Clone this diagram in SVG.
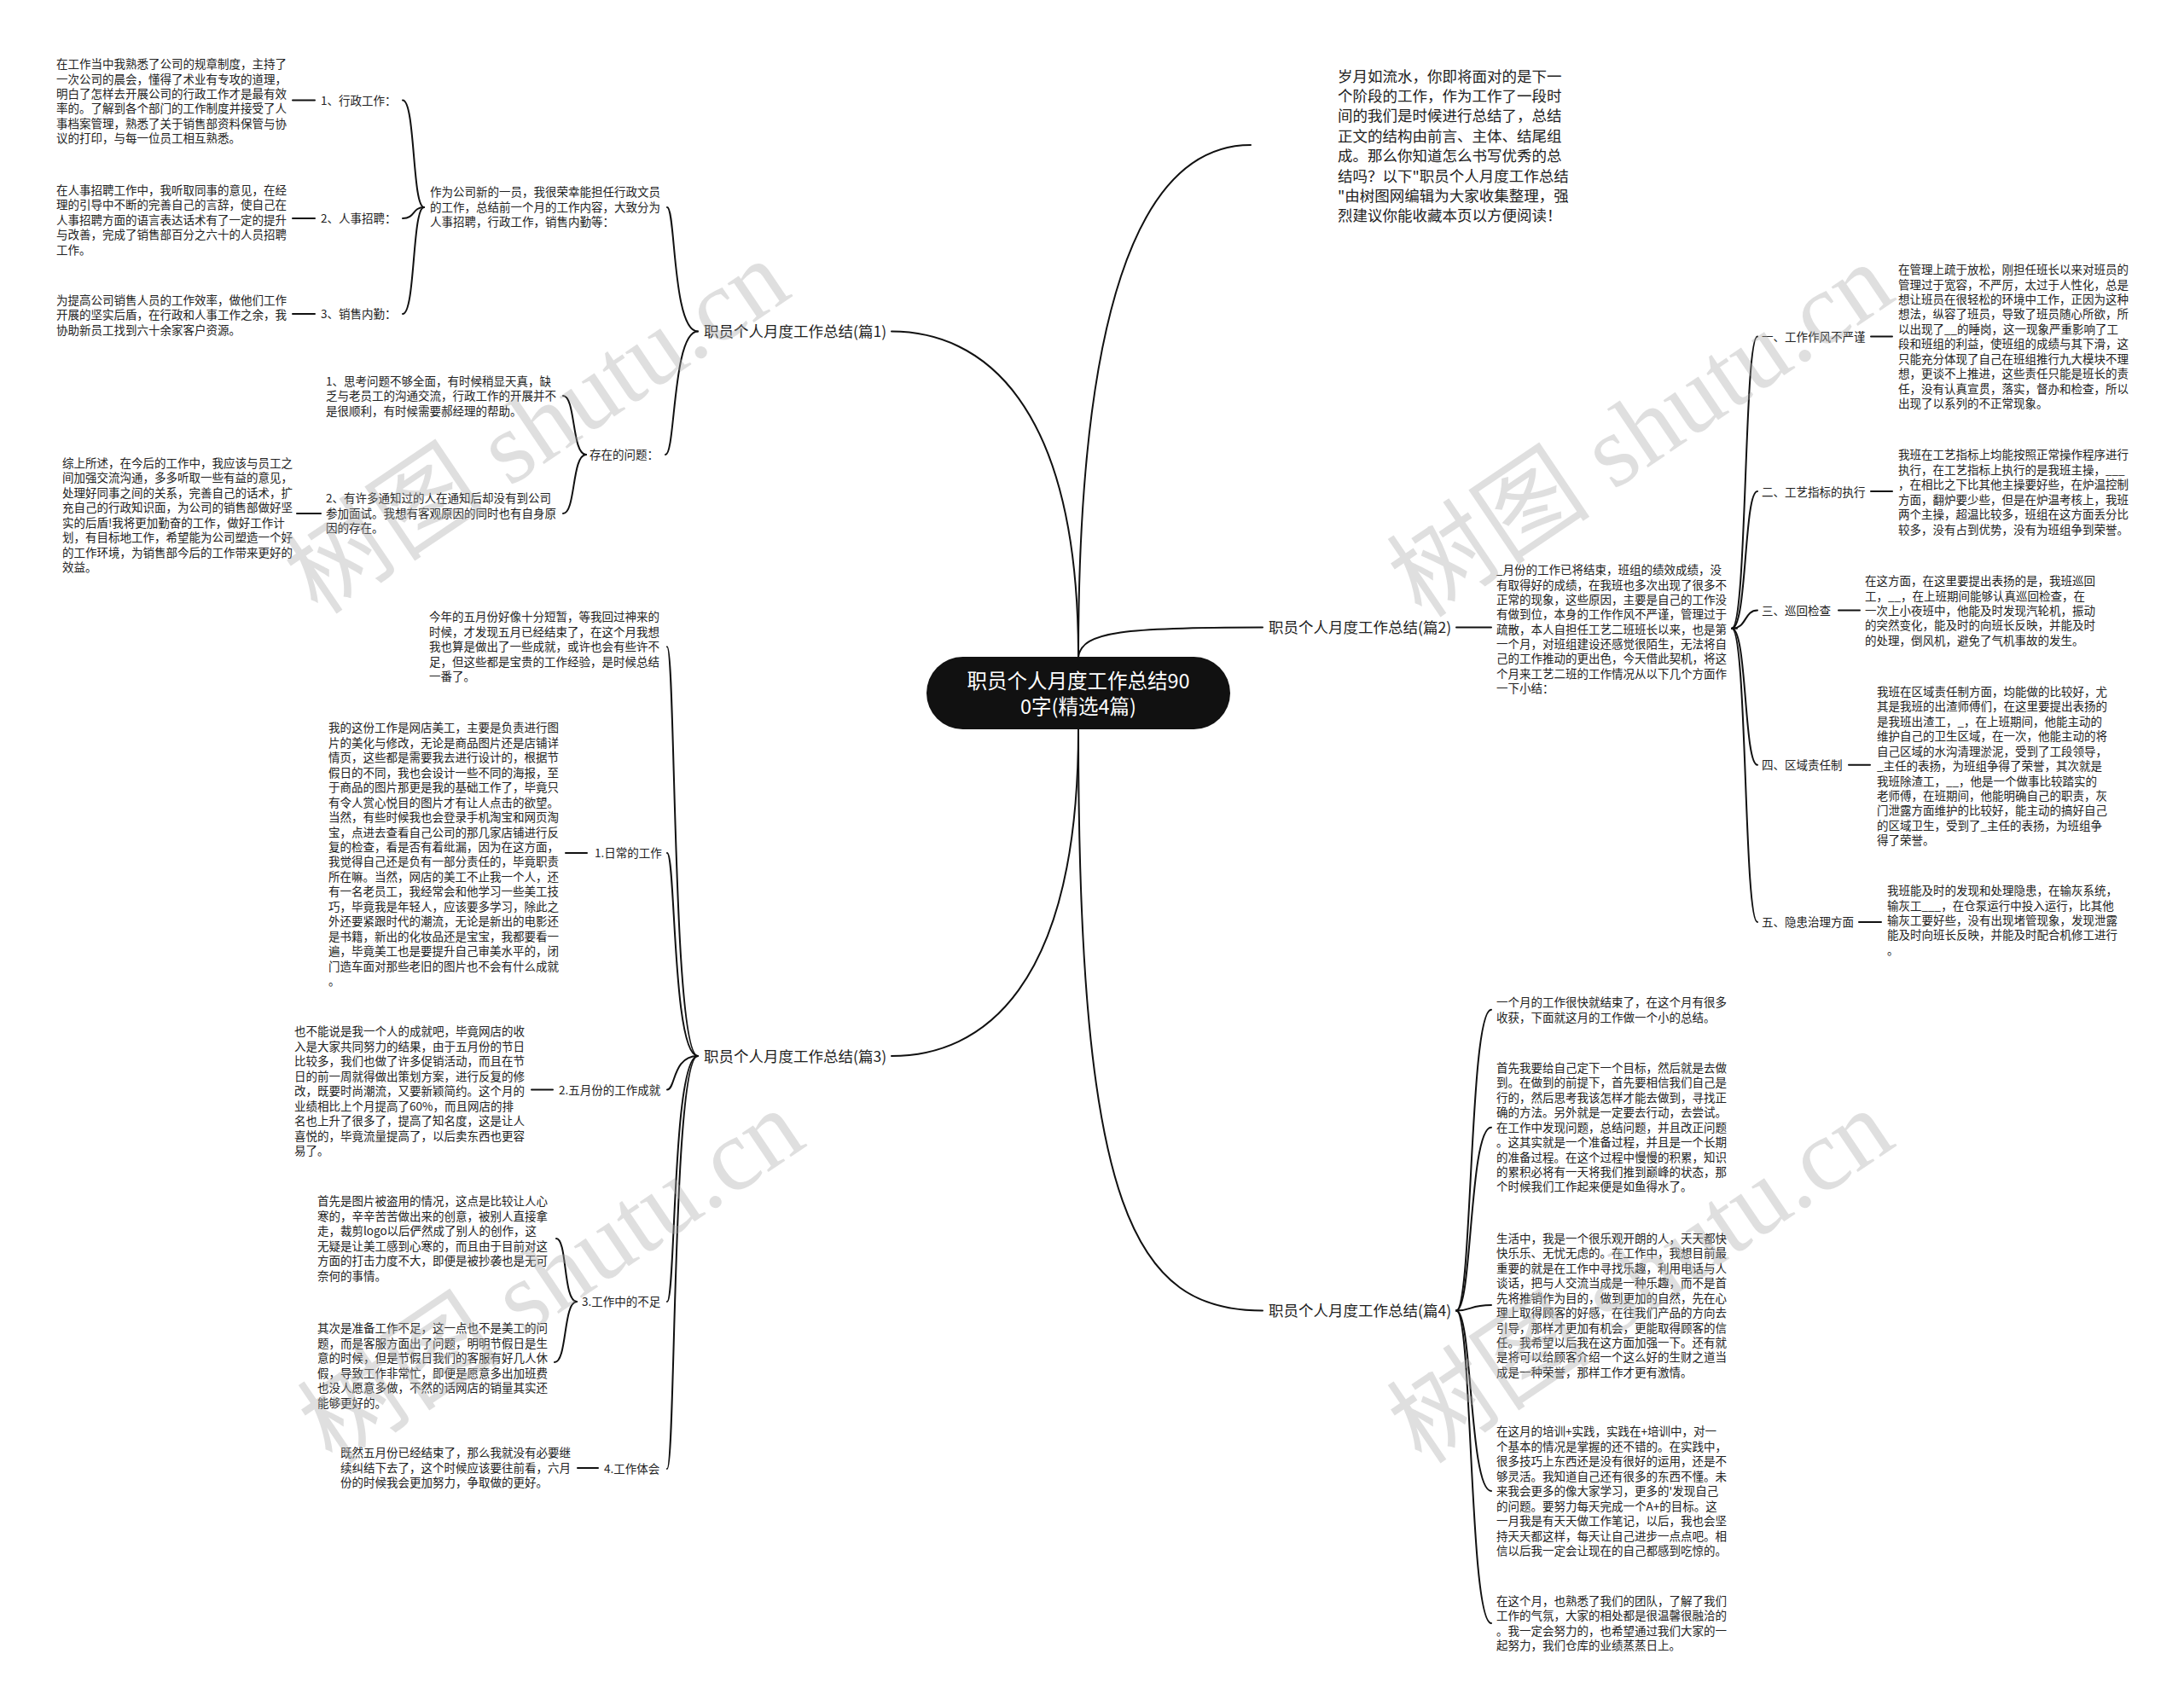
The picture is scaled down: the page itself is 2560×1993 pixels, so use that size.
<svg xmlns="http://www.w3.org/2000/svg" width="2560" height="1993" viewBox="0 0 2560 1993">
<style>
.s{font-family:"Noto Sans CJK SC","Noto Sans",sans-serif;font-size:13.5px;fill:#222}
.b{font-family:"Noto Sans CJK SC","Noto Sans",sans-serif;font-size:17.5px;fill:#222}
.c{font-family:"Noto Sans CJK SC","Noto Sans",sans-serif;font-size:23.5px;fill:#fff}
.ln{fill:none;stroke:#111;stroke-width:2;stroke-linecap:round}
.wm{font-family:"Liberation Serif","Noto Sans CJK SC",serif;font-size:120px;fill:#aaa;fill-opacity:0.38}
</style>
<rect width="2560" height="1993" fill="#fff"/>
<g id="connectors" class="ln">
<path d="M1264 770 C1264 380 1330 170 1466 170"/>
<path d="M1264 770 C1264 470 1150 388.6 1045 388.6"/>
<path d="M1264 770 C1268 740 1320 735.5 1480 735.5"/>
<path d="M1264 855 C1264 1160 1150 1238 1045 1238"/>
<path d="M1264 855 C1264 1420 1330 1536.5 1480 1536.5"/>
<path d="M818 388.6 C788 388.6 792 243 782 243"/>
<path d="M818 388.6 C788 388.6 792 533 780 533"/>
<path d="M497 243 C483 243 487 117.5 472 117.5"/>
<path d="M497 243 C483 243 487 256 472 256"/>
<path d="M497 243 C483 243 487 368 472 368"/>
<path d="M343 117.5 H369"/>
<path d="M343 256 H369"/>
<path d="M343 368 H369"/>
<path d="M687 533 C670 533 675 464 660 464"/>
<path d="M687 533 C670 533 675 602 660 602"/>
<path d="M348 602 H376"/>
<path d="M1707 735.5 H1748"/>
<path d="M2030 736.7 H2036"/>
<path d="M2030 736.7 C2048 736.7 2044 394.5 2060 394.5"/>
<path d="M2030 736.7 C2048 736.7 2044 576 2060 576"/>
<path d="M2030 736.7 C2048 736.7 2044 715.5 2060 715.5"/>
<path d="M2030 736.7 C2048 736.7 2044 896.7 2060 896.7"/>
<path d="M2030 736.7 C2048 736.7 2044 1081 2060 1081"/>
<path d="M2193 394.5 H2218"/>
<path d="M2193 576 H2218"/>
<path d="M2155 715.5 H2180"/>
<path d="M2167 896.7 H2192"/>
<path d="M2179 1081 H2205"/>
<path d="M818 1238 C788 1238 792 758.3 782 758.3"/>
<path d="M818 1238 C788 1238 792 1000 782 1000"/>
<path d="M818 1238 C788 1238 792 1277.5 782 1277.5"/>
<path d="M818 1238 C788 1238 792 1526 782 1526"/>
<path d="M818 1238 C788 1238 792 1722 782 1722"/>
<path d="M663 1000 H688"/>
<path d="M623 1277.5 H648"/>
<path d="M676 1526 C660 1526 665 1452 652 1452"/>
<path d="M676 1526 C660 1526 665 1597 650 1597"/>
<path d="M677 1721 H701"/>
<path d="M1707 1536.5 C1726 1536.5 1722 1183.7 1748 1183.7"/>
<path d="M1707 1536.5 C1726 1536.5 1722 1321.7 1748 1321.7"/>
<path d="M1707 1536.5 C1726 1536.5 1722 1530 1748 1530"/>
<path d="M1707 1536.5 C1726 1536.5 1722 1748 1748 1748"/>
<path d="M1707 1536.5 C1726 1536.5 1722 1903 1748 1903"/>
</g>
<g id="center">
<rect x="1086" y="770" width="356" height="85" rx="42.5" fill="#111"/>
<text class="c" text-anchor="middle"><tspan x="1264" y="807.2">职员个人月度工作总结90</tspan><tspan x="1264" y="837.2">0字(精选4篇)</tspan></text>
</g>
<g id="intro">
<text class="b"><tspan x="1568" y="95.6">岁月如流水，你即将面对的是下一</tspan><tspan x="1568" dy="23.4">个阶段的工作，作为工作了一段时</tspan><tspan x="1568" dy="23.4">间的我们是时候进行总结了，总结</tspan><tspan x="1568" dy="23.4">正文的结构由前言、主体、结尾组</tspan><tspan x="1568" dy="23.4">成。那么你知道怎么书写优秀的总</tspan><tspan x="1568" dy="23.4">结吗？以下"职员个人月度工作总结</tspan><tspan x="1568" dy="23.4">"由树图网编辑为大家收集整理，强</tspan><tspan x="1568" dy="23.4">烈建议你能收藏本页以方便阅读！</tspan></text>
</g>
<g id="p1"><text class="b" x="825" y="395.2">职员个人月度工作总结(篇1)</text></g>
<g id="p1-intro"><text class="s"><tspan x="504" y="230.1">作为公司新的一员，我很荣幸能担任行政文员</tspan><tspan x="504" dy="17.45">的工作，总结前一个月的工作内容，大致分为</tspan><tspan x="504" dy="17.45">人事招聘，行政工作，销售内勤等：</tspan></text></g>
<g id="p1-l1"><text class="s" x="376" y="122.6">1、行政工作：</text></g>
<g id="p1-l2"><text class="s" x="376" y="261.1">2、人事招聘：</text></g>
<g id="p1-l3"><text class="s" x="376" y="373.1">3、销售内勤：</text></g>
<g id="p1-a1"><text class="s"><tspan x="66" y="80.1">在工作当中我熟悉了公司的规章制度，主持了</tspan><tspan x="66" dy="17.45">一次公司的晨会，懂得了术业有专攻的道理，</tspan><tspan x="66" dy="17.45">明白了怎样去开展公司的行政工作才是最有效</tspan><tspan x="66" dy="17.45">率的。了解到各个部门的工作制度并接受了人</tspan><tspan x="66" dy="17.45">事档案管理，熟悉了关于销售部资料保管与协</tspan><tspan x="66" dy="17.45">议的打印，与每一位员工相互熟悉。</tspan></text></g>
<g id="p1-a2"><text class="s"><tspan x="66" y="227.8">在人事招聘工作中，我听取同事的意见，在经</tspan><tspan x="66" dy="17.45">理的引导中不断的完善自己的言辞，使自己在</tspan><tspan x="66" dy="17.45">人事招聘方面的语言表达话术有了一定的提升</tspan><tspan x="66" dy="17.45">与改善，完成了销售部百分之六十的人员招聘</tspan><tspan x="66" dy="17.45">工作。</tspan></text></g>
<g id="p1-a3"><text class="s"><tspan x="66" y="356.8">为提高公司销售人员的工作效率，做他们工作</tspan><tspan x="66" dy="17.45">开展的坚实后盾，在行政和人事工作之余，我</tspan><tspan x="66" dy="17.45">协助新员工找到六十余家客户资源。</tspan></text></g>
<g id="p1-q"><text class="s" x="691" y="538.1">存在的问题：</text></g>
<g id="p1-q1"><text class="s"><tspan x="382" y="451.8">1、思考问题不够全面，有时候稍显天真，缺</tspan><tspan x="382" dy="17.45">乏与老员工的沟通交流，行政工作的开展并不</tspan><tspan x="382" dy="17.45">是很顺利，有时候需要郝经理的帮助。</tspan></text></g>
<g id="p1-q2"><text class="s"><tspan x="382" y="589.4">2、有许多通知过的人在通知后却没有到公司</tspan><tspan x="382" dy="17.45">参加面试。我想有客观原因的同时也有自身原</tspan><tspan x="382" dy="17.45">因的存在。</tspan></text></g>
<g id="p1-q2a"><text class="s"><tspan x="73" y="547.8">综上所述，在今后的工作中，我应该与员工之</tspan><tspan x="73" dy="17.45">间加强交流沟通，多多听取一些有益的意见，</tspan><tspan x="73" dy="17.45">处理好同事之间的关系，完善自己的话术，扩</tspan><tspan x="73" dy="17.45">充自己的行政知识面，为公司的销售部做好坚</tspan><tspan x="73" dy="17.45">实的后盾!我将更加勤奋的工作，做好工作计</tspan><tspan x="73" dy="17.45">划，有目标地工作，希望能为公司塑造一个好</tspan><tspan x="73" dy="17.45">的工作环境，为销售部今后的工作带来更好的</tspan><tspan x="73" dy="17.45">效益。</tspan></text></g>
<g id="p2"><text class="b" x="1487" y="741.6">职员个人月度工作总结(篇2)</text></g>
<g id="p2-intro"><text class="s"><tspan x="1754" y="673.4">_月份的工作已将结束，班组的绩效成绩，没</tspan><tspan x="1754" dy="17.3">有取得好的成绩，在我班也多次出现了很多不</tspan><tspan x="1754" dy="17.3">正常的现象，这些原因，主要是自己的工作没</tspan><tspan x="1754" dy="17.3">有做到位，本身的工作作风不严谨，管理过于</tspan><tspan x="1754" dy="17.3">疏散，本人自担任工艺二班班长以来，也是第</tspan><tspan x="1754" dy="17.3">一个月，对班组建设还感觉很陌生，无法将自</tspan><tspan x="1754" dy="17.3">己的工作推动的更出色，今天借此契机，将这</tspan><tspan x="1754" dy="17.3">个月来工艺二班的工作情况从以下几个方面作</tspan><tspan x="1754" dy="17.3">一下小结：</tspan></text></g>
<g id="p2-l1"><text class="s" x="2065" y="400.1">一、工作作风不严谨</text></g>
<g id="p2-a1"><text class="s"><tspan x="2225" y="321.1">在管理上疏于放松，刚担任班长以来对班员的</tspan><tspan x="2225" dy="17.45">管理过于宽容，不严厉，太过于人性化，总是</tspan><tspan x="2225" dy="17.45">想让班员在很轻松的环境中工作，正因为这种</tspan><tspan x="2225" dy="17.45">想法，纵容了班员，导致了班员随心所欲，所</tspan><tspan x="2225" dy="17.45">以出现了__的睡岗，这一现象严重影响了工</tspan><tspan x="2225" dy="17.45">段和班组的利益，使班组的成绩与其下滑，这</tspan><tspan x="2225" dy="17.45">只能充分体现了自己在班组推行九大模块不理</tspan><tspan x="2225" dy="17.45">想，更谈不上推进，这些责任只能是班长的责</tspan><tspan x="2225" dy="17.45">任，没有认真宣贯，落实，督办和检查，所以</tspan><tspan x="2225" dy="17.45">出现了以系列的不正常现象。</tspan></text></g>
<g id="p2-l2"><text class="s" x="2065" y="581.6">二、工艺指标的执行</text></g>
<g id="p2-a2"><text class="s"><tspan x="2225" y="538.4">我班在工艺指标上均能按照正常操作程序进行</tspan><tspan x="2225" dy="17.45">执行，在工艺指标上执行的是我班主操，___</tspan><tspan x="2225" dy="17.45">，在相比之下比其他主操要好些，在炉温控制</tspan><tspan x="2225" dy="17.45">方面，翻炉要少些，但是在炉温考核上，我班</tspan><tspan x="2225" dy="17.45">两个主操，超温比较多，班组在这方面丢分比</tspan><tspan x="2225" dy="17.45">较多，没有占到优势，没有为班组争到荣誉。</tspan></text></g>
<g id="p2-l3"><text class="s" x="2065" y="721.1">三、巡回检查</text></g>
<g id="p2-a3"><text class="s"><tspan x="2186" y="686.1">在这方面，在这里要提出表扬的是，我班巡回</tspan><tspan x="2186" dy="17.45">工，__，在上班期间能够认真巡回检查，在</tspan><tspan x="2186" dy="17.45">一次上小夜班中，他能及时发现汽轮机，振动</tspan><tspan x="2186" dy="17.45">的突然变化，能及时的向班长反映，并能及时</tspan><tspan x="2186" dy="17.45">的处理，倒风机，避免了气机事故的发生。</tspan></text></g>
<g id="p2-l4"><text class="s" x="2065" y="901.8">四、区域责任制</text></g>
<g id="p2-a4"><text class="s"><tspan x="2200" y="815.8">我班在区域责任制方面，均能做的比较好，尤</tspan><tspan x="2200" dy="17.45">其是我班的出渣师傅们，在这里要提出表扬的</tspan><tspan x="2200" dy="17.45">是我班出渣工，_，在上班期间，他能主动的</tspan><tspan x="2200" dy="17.45">维护自己的卫生区域，在一次，他能主动的将</tspan><tspan x="2200" dy="17.45">自己区域的水沟清理淤泥，受到了工段领导，</tspan><tspan x="2200" dy="17.45">_主任的表扬，为班组争得了荣誉，其次就是</tspan><tspan x="2200" dy="17.45">我班除渣工，__，他是一个做事比较踏实的</tspan><tspan x="2200" dy="17.45">老师傅，在班期间，他能明确自己的职责，灰</tspan><tspan x="2200" dy="17.45">门泄露方面维护的比较好，能主动的搞好自己</tspan><tspan x="2200" dy="17.45">的区域卫生，受到了_主任的表扬，为班组争</tspan><tspan x="2200" dy="17.45">得了荣誉。</tspan></text></g>
<g id="p2-l5"><text class="s" x="2065" y="1086.1">五、隐患治理方面</text></g>
<g id="p2-a5"><text class="s"><tspan x="2212" y="1049.1">我班能及时的发现和处理隐患，在输灰系统，</tspan><tspan x="2212" dy="17.45">输灰工___，在仓泵运行中投入运行，比其他</tspan><tspan x="2212" dy="17.45">输灰工要好些，没有出现堵管现象，发现泄露</tspan><tspan x="2212" dy="17.45">能及时向班长反映，并能及时配合机修工进行</tspan><tspan x="2212" dy="17.45">。</tspan></text></g>
<g id="p3"><text class="b" x="825" y="1244.6">职员个人月度工作总结(篇3)</text></g>
<g id="p3-intro"><text class="s"><tspan x="503" y="728.4">今年的五月份好像十分短暂，等我回过神来的</tspan><tspan x="503" dy="17.45">时候，才发现五月已经结束了，在这个月我想</tspan><tspan x="503" dy="17.45">我也算是做出了一些成就，或许也会有些许不</tspan><tspan x="503" dy="17.45">足，但这些都是宝贵的工作经验，是时候总结</tspan><tspan x="503" dy="17.45">一番了。</tspan></text></g>
<g id="p3-l1"><text class="s" x="697" y="1005.1">1.日常的工作</text></g>
<g id="p3-a1"><text class="s"><tspan x="385" y="858.4">我的这份工作是网店美工，主要是负责进行图</tspan><tspan x="385" dy="17.45">片的美化与修改，无论是商品图片还是店铺详</tspan><tspan x="385" dy="17.45">情页，这些都是需要我去进行设计的，根据节</tspan><tspan x="385" dy="17.45">假日的不同，我也会设计一些不同的海报，至</tspan><tspan x="385" dy="17.45">于商品的图片那更是我的基础工作了，毕竟只</tspan><tspan x="385" dy="17.45">有令人赏心悦目的图片才有让人点击的欲望。</tspan><tspan x="385" dy="17.45">当然，有些时候我也会登录手机淘宝和网页淘</tspan><tspan x="385" dy="17.45">宝，点进去查看自己公司的那几家店铺进行反</tspan><tspan x="385" dy="17.45">复的检查，看是否有着纰漏，因为在这方面，</tspan><tspan x="385" dy="17.45">我觉得自己还是负有一部分责任的，毕竟职责</tspan><tspan x="385" dy="17.45">所在嘛。当然，网店的美工不止我一个人，还</tspan><tspan x="385" dy="17.45">有一名老员工，我经常会和他学习一些美工技</tspan><tspan x="385" dy="17.45">巧，毕竟我是年轻人，应该要多学习，除此之</tspan><tspan x="385" dy="17.45">外还要紧跟时代的潮流，无论是新出的电影还</tspan><tspan x="385" dy="17.45">是书籍，新出的化妆品还是宝宝，我都要看一</tspan><tspan x="385" dy="17.45">遍，毕竟美工也是要提升自己审美水平的，闭</tspan><tspan x="385" dy="17.45">门造车面对那些老旧的图片也不会有什么成就</tspan><tspan x="385" dy="17.45">。</tspan></text></g>
<g id="p3-l2"><text class="s" x="655" y="1283.1">2.五月份的工作成就</text></g>
<g id="p3-a2"><text class="s"><tspan x="345" y="1214.4">也不能说是我一个人的成就吧，毕竟网店的收</tspan><tspan x="345" dy="17.45">入是大家共同努力的结果，由于五月份的节日</tspan><tspan x="345" dy="17.45">比较多，我们也做了许多促销活动，而且在节</tspan><tspan x="345" dy="17.45">日的前一周就得做出策划方案，进行反复的修</tspan><tspan x="345" dy="17.45">改，既要时尚潮流，又要新颖简约。这个月的</tspan><tspan x="345" dy="17.45">业绩相比上个月提高了60%，而且网店的排</tspan><tspan x="345" dy="17.45">名也上升了很多了，提高了知名度，这是让人</tspan><tspan x="345" dy="17.45">喜悦的，毕竟流量提高了，以后卖东西也更容</tspan><tspan x="345" dy="17.45">易了。</tspan></text></g>
<g id="p3-l3"><text class="s" x="682" y="1530.8">3.工作中的不足</text></g>
<g id="p3-a3a"><text class="s"><tspan x="372" y="1413.4">首先是图片被盗用的情况，这点是比较让人心</tspan><tspan x="372" dy="17.45">寒的，辛辛苦苦做出来的创意，被别人直接拿</tspan><tspan x="372" dy="17.45">走，裁剪logo以后俨然成了别人的创作，这</tspan><tspan x="372" dy="17.45">无疑是让美工感到心寒的，而且由于目前对这</tspan><tspan x="372" dy="17.45">方面的打击力度不大，即便是被抄袭也是无可</tspan><tspan x="372" dy="17.45">奈何的事情。</tspan></text></g>
<g id="p3-a3b"><text class="s"><tspan x="372" y="1562.4">其次是准备工作不足，这一点也不是美工的问</tspan><tspan x="372" dy="17.45">题，而是客服方面出了问题，明明节假日是生</tspan><tspan x="372" dy="17.45">意的时候，但是节假日我们的客服有好几人休</tspan><tspan x="372" dy="17.45">假，导致工作非常忙，即便是愿意多出加班费</tspan><tspan x="372" dy="17.45">也没人愿意多做，不然的话网店的销量其实还</tspan><tspan x="372" dy="17.45">能够更好的。</tspan></text></g>
<g id="p3-l4"><text class="s" x="708" y="1726.8">4.工作体会</text></g>
<g id="p3-a4"><text class="s"><tspan x="399" y="1708.4">既然五月份已经结束了，那么我就没有必要继</tspan><tspan x="399" dy="17.45">续纠结下去了，这个时候应该要往前看，六月</tspan><tspan x="399" dy="17.45">份的时候我会更加努力，争取做的更好。</tspan></text></g>
<g id="p4"><text class="b" x="1487" y="1543.1">职员个人月度工作总结(篇4)</text></g>
<g id="p4-a1"><text class="s"><tspan x="1754" y="1180.1">一个月的工作很快就结束了，在这个月有很多</tspan><tspan x="1754" dy="17.45">收获，下面就这月的工作做一个小的总结。</tspan></text></g>
<g id="p4-a2"><text class="s"><tspan x="1754" y="1256.8">首先我要给自己定下一个目标，然后就是去做</tspan><tspan x="1754" dy="17.45">到。在做到的前提下，首先要相信我们自己是</tspan><tspan x="1754" dy="17.45">行的，然后思考我该怎样才能去做到，寻找正</tspan><tspan x="1754" dy="17.45">确的方法。另外就是一定要去行动，去尝试。</tspan><tspan x="1754" dy="17.45">在工作中发现问题，总结问题，并且改正问题</tspan><tspan x="1754" dy="17.45">。这其实就是一个准备过程，并且是一个长期</tspan><tspan x="1754" dy="17.45">的准备过程。在这个过程中慢慢的积累，知识</tspan><tspan x="1754" dy="17.45">的累积必将有一天将我们推到巅峰的状态，那</tspan><tspan x="1754" dy="17.45">个时候我们工作起来便是如鱼得水了。</tspan></text></g>
<g id="p4-a3"><text class="s"><tspan x="1754" y="1456.8">生活中，我是一个很乐观开朗的人，天天都快</tspan><tspan x="1754" dy="17.45">快乐乐、无忧无虑的。在工作中，我想目前最</tspan><tspan x="1754" dy="17.45">重要的就是在工作中寻找乐趣，利用电话与人</tspan><tspan x="1754" dy="17.45">谈话，把与人交流当成是一种乐趣，而不是首</tspan><tspan x="1754" dy="17.45">先将推销作为目的，做到更加的自然，先在心</tspan><tspan x="1754" dy="17.45">理上取得顾客的好感，在往我们产品的方向去</tspan><tspan x="1754" dy="17.45">引导，那样才更加有机会，更能取得顾客的信</tspan><tspan x="1754" dy="17.45">任。我希望以后我在这方面加强一下。还有就</tspan><tspan x="1754" dy="17.45">是将可以给顾客介绍一个这么好的生财之道当</tspan><tspan x="1754" dy="17.45">成是一种荣誉，那样工作才更有激情。</tspan></text></g>
<g id="p4-a4"><text class="s"><tspan x="1754" y="1683.4">在这月的培训+实践，实践在+培训中，对一</tspan><tspan x="1754" dy="17.45">个基本的情况是掌握的还不错的。在实践中，</tspan><tspan x="1754" dy="17.45">很多技巧上东西还是没有很好的运用，还是不</tspan><tspan x="1754" dy="17.45">够灵活。我知道自己还有很多的东西不懂。未</tspan><tspan x="1754" dy="17.45">来我会更多的像大家学习，更多的'发现自己</tspan><tspan x="1754" dy="17.45">的问题。要努力每天完成一个A+的目标。这</tspan><tspan x="1754" dy="17.45">一月我是有天天做工作笔记，以后，我也会坚</tspan><tspan x="1754" dy="17.45">持天天都这样，每天让自己进步一点点吧。相</tspan><tspan x="1754" dy="17.45">信以后我一定会让现在的自己都感到吃惊的。</tspan></text></g>
<g id="p4-a5"><text class="s"><tspan x="1754" y="1881.8">在这个月，也熟悉了我们的团队，了解了我们</tspan><tspan x="1754" dy="17.45">工作的气氛，大家的相处都是很温馨很融洽的</tspan><tspan x="1754" dy="17.45">。我一定会努力的，也希望通过我们大家的一</tspan><tspan x="1754" dy="17.45">起努力，我们仓库的业绩蒸蒸日上。</tspan></text></g>
<g id="watermarks" class="wm" text-anchor="middle">
<text x="633" y="540" transform="rotate(-34 633 506)">树图 shutu.cn</text>
<text x="1927" y="544" transform="rotate(-34 1927 510)">树图 shutu.cn</text>
<text x="650" y="1536" transform="rotate(-34 650 1502)">树图 shutu.cn</text>
<text x="1927" y="1536" transform="rotate(-34 1927 1502)">树图 shutu.cn</text>
</g>
</svg>
